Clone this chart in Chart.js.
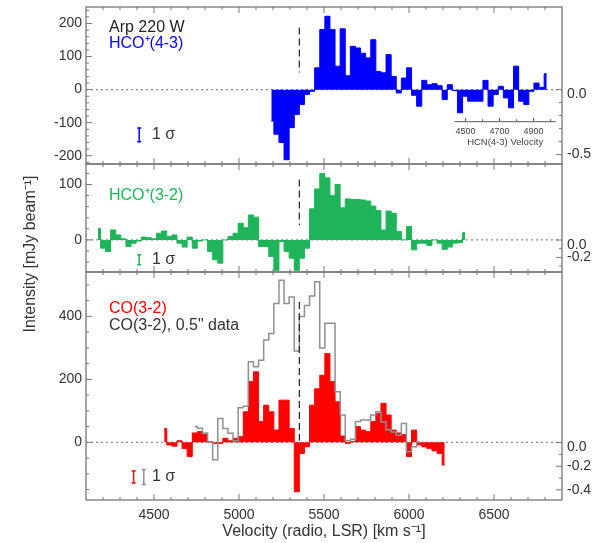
<!DOCTYPE html>
<html lang="en">
<head>
<meta charset="utf-8">
<title>Arp 220 W spectra</title>
<script src="https://cdn.jsdelivr.net/npm/chart.js@4/dist/chart.umd.min.js"></script>
<style>
  html, body { margin: 0; background: #fff; }
  #fig { position: relative; width: 605px; height: 543px; }
  #fig canvas { position: absolute; left: 0; top: 0; }
</style>
</head>
<body>
<div id="fig">
  <canvas id="hco43" width="605" height="543"></canvas>
  <canvas id="hco32" width="605" height="543"></canvas>
  <canvas id="co32" width="605" height="543"></canvas>
</div>
<script>
// spectra toward Arp 220 W, 30 km/s channels, intensities in mJy/beam
const CHAN = 30;
const SYS_VEL = 5355;

// HCO+(4-3), first channel centre 5190 km/s
const hco43Start = 5190;
const hco43 = [-95, -135, -160, -212, -115, -75, -45, -15, -5,
  66, 182, 222, 182, 71, 184, 42, 131, 126, 110, 96, 151, 55, 51, 106, 40, -10, 35, 66,
  -17, -50, 28, 15, 18, 12, -30, 15, -3, -70, -20, -35, -35, -35, 28, -50, -15, 10, -25,
  -55, 71, -35, -45, -5, 20, 7, 48];

// HCO+(3-2), first channel centre 4170 km/s
const hco32Start = 4170;
const hco32 = [21, -15, -21, 18, 9, 2, -12, -6, -2, 5, 4, 2, 12, 16, 6, 9, -6, -13, 5, -15,
  -2, 0, -21, -36, -42, 0, 6, 12, 30, 22, 45, 41, -12, -12, -30, -55, -3, -21, -33, -55,
  -33, -15, 56, 92, 120, 112, 80, 100, 58, 74, 73, 73, 72, 70, 61, 53, 18, 52, 48, 15,
  0, 24, -18, -6, -6, -10, 0, -6, -17, -13, -6, -5, 13];

// CO(3-2), first channel centre 4560 km/s
const co32Start = 4560;
const co32 = [44, -8, -12, 5, -20, -45, 30, 34, 25, 2, -3, -3, 13, 5, 13, 18, 97, 193, 224,
  66, 118, 97, 39, 134, 134, 44, -157, -35, -14, 118, 170, 213, 282, 193, 129, 20, -3, 3,
  50, 39, 34, 66, 92, 124, 87, 39, 30, 25, -45, 39, -8, -14, -19, -27, -35, -72];

// CO(3-2) from the 0.5" resolution data, first channel centre 4740 km/s
const co32HiStart = 4740;
const co32Hi = [50, 45, 30, 0, -55, 76, 44, 29, 5, 110, 115, 256, 240, 261, 325, 346, 441,
  515, 441, 462, 290, 400, 435, 465, 510, 300, 378, 378, 161, 87, 5, 10, 66, 71, 71, 87,
  97, 65, 40, 33, 23, 60, -30, -14, 2];

// 1 sigma noise of each spectrum
const sigmaHco43 = 21, sigmaHco32 = 9, sigmaCo32 = 19, sigmaCo32Hi = 24;

const velTicks = [4500, 5000, 5500, 6000, 6500];
const hcnTicks = [4500, 4700, 4900];
const HCN_SHIFT = 1833;   // HCO+(4-3) velocity of a given HCN(4-3) velocity, minus that velocity

const FONT = '"Liberation Sans", Arial, Helvetica, sans-serif';
const INK = '#333';
const FRAME = '#777';
const BLUE = '#0000ff', GREEN = '#1fb45a', RED = '#ff0000', GREY = '#909090';

function spectrum(start, vals) {
  return vals.map((v, i) => ({ x: start + i * CHAN, y: v }));
}

function histo(data, color, filled) {
  return {
    data,
    stepped: 'middle',
    borderColor: color,
    backgroundColor: color,
    borderWidth: filled ? 1 : 1.5,
    fill: filled ? 'origin' : false,
    pointRadius: 0
  };
}

function range(lo, hi, step) {
  const out = [];
  for (let v = lo; v <= hi + 1e-9; v += step) out.push(+v.toFixed(6));
  return out;
}

const panels = [
  {
    canvas: 'hco43', top: 7, bottom: 164,
    yMin: -225, yMax: 250, yLabels: [-200, -100, 0, 100, 200], yMajor: 100, yMinor: 20,
    rMin: -0.572, rMax: 0.635, rLabels: [0, -0.5], rLow: -0.5,
    sysRange: [52, 188],
    datasets: [histo(spectrum(hco43Start, hco43), BLUE, true)],
    texts: [
      { text: 'Arp 220 W', color: '#222', dy: 20.5 },
      { text: 'HCO\u207A(4-3)', color: BLUE, dy: 37 }
    ],
    sigmas: [{ vel: 4413, at: -137, size: sigmaHco43, color: BLUE }],
    inset: true
  },
  {
    canvas: 'hco32', top: 164, bottom: 272,
    yMin: -58, yMax: 137, yLabels: [0, 100], yMajor: 100, yMinor: 20,
    rMin: -0.368, rMax: 0.874, rLabels: [0, -0.2], rLow: -0.3,
    sysRange: [27, 109],
    datasets: [histo(spectrum(hco32Start, hco32), GREEN, true)],
    texts: [{ text: 'HCO\u207A(3-2)', color: GREEN, dy: 32 }],
    sigmas: [{ vel: 4413, at: -36, size: sigmaHco32, color: GREEN }],
    yTitle: true
  },
  {
    canvas: 'co32', top: 272, bottom: 500,
    yMin: -183, yMax: 541, yLabels: [0, 200, 400], yMajor: 200, yMinor: 50,
    rMin: -0.485, rMax: 1.439, rLabels: [0, -0.2, -0.4], rLow: -0.4,
    sysRange: [5, 446],
    datasets: [
      histo(spectrum(co32HiStart, co32Hi), GREY, false),
      histo(spectrum(co32Start, co32), RED, true)
    ],
    texts: [
      { text: 'CO(3-2)', color: RED, dy: 37 },
      { text: 'CO(3-2), 0.5" data', color: INK, dy: 54 }
    ],
    sigmas: [
      { vel: 4380, at: -110, size: sigmaCo32, color: RED },
      { vel: 4440, at: -110, size: sigmaCo32Hi, color: GREY }
    ],
    showX: true
  }
];

function decor(p) {
  return {
    id: 'decor',
    beforeDatasetsDraw(chart) {
      const { ctx, chartArea: a, scales: { y } } = chart;
      const y0 = y.getPixelForValue(0);
      ctx.save();
      ctx.strokeStyle = '#8a8a8a';
      ctx.lineWidth = 1.2;
      ctx.setLineDash([2, 3]);
      ctx.beginPath();
      ctx.moveTo(a.left, y0);
      ctx.lineTo(a.right, y0);
      ctx.stroke();
      ctx.restore();
    },
    afterDatasetsDraw(chart) {
      const { ctx, chartArea: a, scales: { x, y, yR } } = chart;
      ctx.save();

      // systemic velocity marker
      const xs = x.getPixelForValue(SYS_VEL);
      ctx.strokeStyle = '#222';
      ctx.lineWidth = 1.2;
      ctx.setLineDash([7, 4]);
      ctx.beginPath();
      ctx.moveTo(xs, y.getPixelForValue(p.sysRange[1]));
      ctx.lineTo(xs, y.getPixelForValue(p.sysRange[0]));
      ctx.stroke();
      ctx.setLineDash([]);

      // frame and inward ticks
      ctx.strokeStyle = FRAME;
      ctx.lineWidth = 1.3;
      ctx.strokeRect(a.left, a.top, a.right - a.left, a.bottom - a.top);
      ctx.lineWidth = 1;
      ctx.beginPath();
      range(4200, 6800, 100).forEach(v => {
        const px = x.getPixelForValue(v);
        const len = v % 500 === 0 ? 6 : 3;
        ctx.moveTo(px, a.bottom); ctx.lineTo(px, a.bottom - len);
        ctx.moveTo(px, a.top); ctx.lineTo(px, a.top + len);
      });
      const first = Math.ceil(p.yMin / p.yMinor) * p.yMinor;
      range(first, p.yMax, p.yMinor).forEach(v => {
        const py = y.getPixelForValue(v);
        const len = v % p.yMajor === 0 ? 6 : 3;
        ctx.moveTo(a.left, py); ctx.lineTo(a.left + len, py);
      });
      range(p.rLow, 0, 0.1).forEach(v => {
        const py = yR.getPixelForValue(v);
        const len = p.rLabels.some(l => Math.abs(l - v) < 1e-6) ? 6 : 3;
        ctx.moveTo(a.right, py); ctx.lineTo(a.right - len, py);
      });
      ctx.stroke();

      // right-hand axis labels
      ctx.fillStyle = INK;
      ctx.font = '14px ' + FONT;
      ctx.textAlign = 'left';
      ctx.textBaseline = 'middle';
      p.rLabels.forEach(v => {
        ctx.fillText(v.toFixed(1), a.right + 5, yR.getPixelForValue(v) + (v === 0 ? 5 : 0));
      });

      // line names
      ctx.font = '16px ' + FONT;
      p.texts.forEach(t => {
        ctx.fillStyle = t.color;
        ctx.fillText(t.text, a.left + 23, a.top + t.dy);
      });

      // 1 sigma bars
      p.sigmas.forEach(s => {
        const px = x.getPixelForValue(s.vel);
        const hi = y.getPixelForValue(s.at + s.size);
        const lo = y.getPixelForValue(s.at - s.size);
        ctx.strokeStyle = s.color;
        ctx.lineWidth = 1.5;
        ctx.beginPath();
        ctx.moveTo(px, hi); ctx.lineTo(px, lo);
        ctx.moveTo(px - 2, hi); ctx.lineTo(px + 2, hi);
        ctx.moveTo(px - 2, lo); ctx.lineTo(px + 2, lo);
        ctx.stroke();
      });
      ctx.fillStyle = INK;
      ctx.fillText('1 \u03C3', a.left + 66, y.getPixelForValue(p.sigmas[0].at));

      // HCN(4-3) velocity scale inside the top panel
      if (p.inset) {
        const yIn = y.getPixelForValue(-97);
        const hx = v => x.getPixelForValue(v + HCN_SHIFT);
        ctx.strokeStyle = '#555';
        ctx.lineWidth = 1;
        ctx.beginPath();
        ctx.moveTo(hx(4435), yIn); ctx.lineTo(hx(5030), yIn);
        range(4500, 5000, 100).forEach(v => {
          const len = hcnTicks.includes(v) ? 4 : 2.5;
          ctx.moveTo(hx(v), yIn); ctx.lineTo(hx(v), yIn - len);
        });
        ctx.stroke();
        ctx.fillStyle = '#444';
        ctx.font = '9px ' + FONT;
        ctx.textAlign = 'center';
        hcnTicks.forEach(v => ctx.fillText(String(v), hx(v), yIn + 10));
        ctx.font = '9.5px ' + FONT;
        ctx.fillText('HCN(4-3) Velocity', (hx(4435) + hx(5030)) / 2, yIn + 21);
      }

      // shared intensity title
      if (p.yTitle) {
        ctx.fillStyle = INK;
        ctx.font = '16px ' + FONT;
        ctx.textAlign = 'center';
        ctx.translate(31, 254);
        ctx.rotate(-Math.PI / 2);
        ctx.fillText('Intensity [mJy beam\u207B\u00B9]', 0, 0);
      }
      ctx.restore();
    }
  };
}

function makePanel(p) {
  return new Chart(document.getElementById(p.canvas), {
    type: 'line',
    data: { datasets: p.datasets },
    options: {
      responsive: false,
      animation: false,
      devicePixelRatio: 1,
      events: [],
      layout: { padding: { left: 0, right: 605 - 562, top: p.top, bottom: p.showX ? 0 : 543 - p.bottom } },
      plugins: { legend: { display: false }, tooltip: { enabled: false } },
      scales: {
        x: {
          type: 'linear', min: 4100, max: 6900, display: !!p.showX,
          afterBuildTicks: s => { s.ticks = velTicks.map(v => ({ value: v })); },
          afterFit: s => { if (p.showX) s.height = 43; },
          grid: { display: false, drawTicks: false },
          border: { display: false },
          ticks: {
            font: { family: FONT, size: 14 }, color: INK, padding: 7,
            autoSkip: false, maxRotation: 0, callback: v => String(v)
          },
          title: {
            display: true, text: 'Velocity (radio, LSR) [km s\u207B\u00B9]',
            font: { family: FONT, size: 16 }, color: INK, padding: { top: 0, bottom: 2 }
          }
        },
        y: {
          type: 'linear', position: 'left', min: p.yMin, max: p.yMax,
          afterBuildTicks: s => { s.ticks = p.yLabels.map(v => ({ value: v })); },
          afterFit: s => { s.width = 86; s.paddingTop = 0; s.paddingBottom = 0; },
          grid: { display: false, drawTicks: false },
          border: { display: false },
          ticks: {
            font: { family: FONT, size: 14 }, color: INK, padding: 4,
            autoSkip: false, callback: v => String(v)
          }
        },
        yR: { type: 'linear', position: 'right', display: false, min: p.rMin, max: p.rMax }
      }
    },
    plugins: [decor(p)]
  });
}

panels.forEach(makePanel);
</script>
</body>
</html>
